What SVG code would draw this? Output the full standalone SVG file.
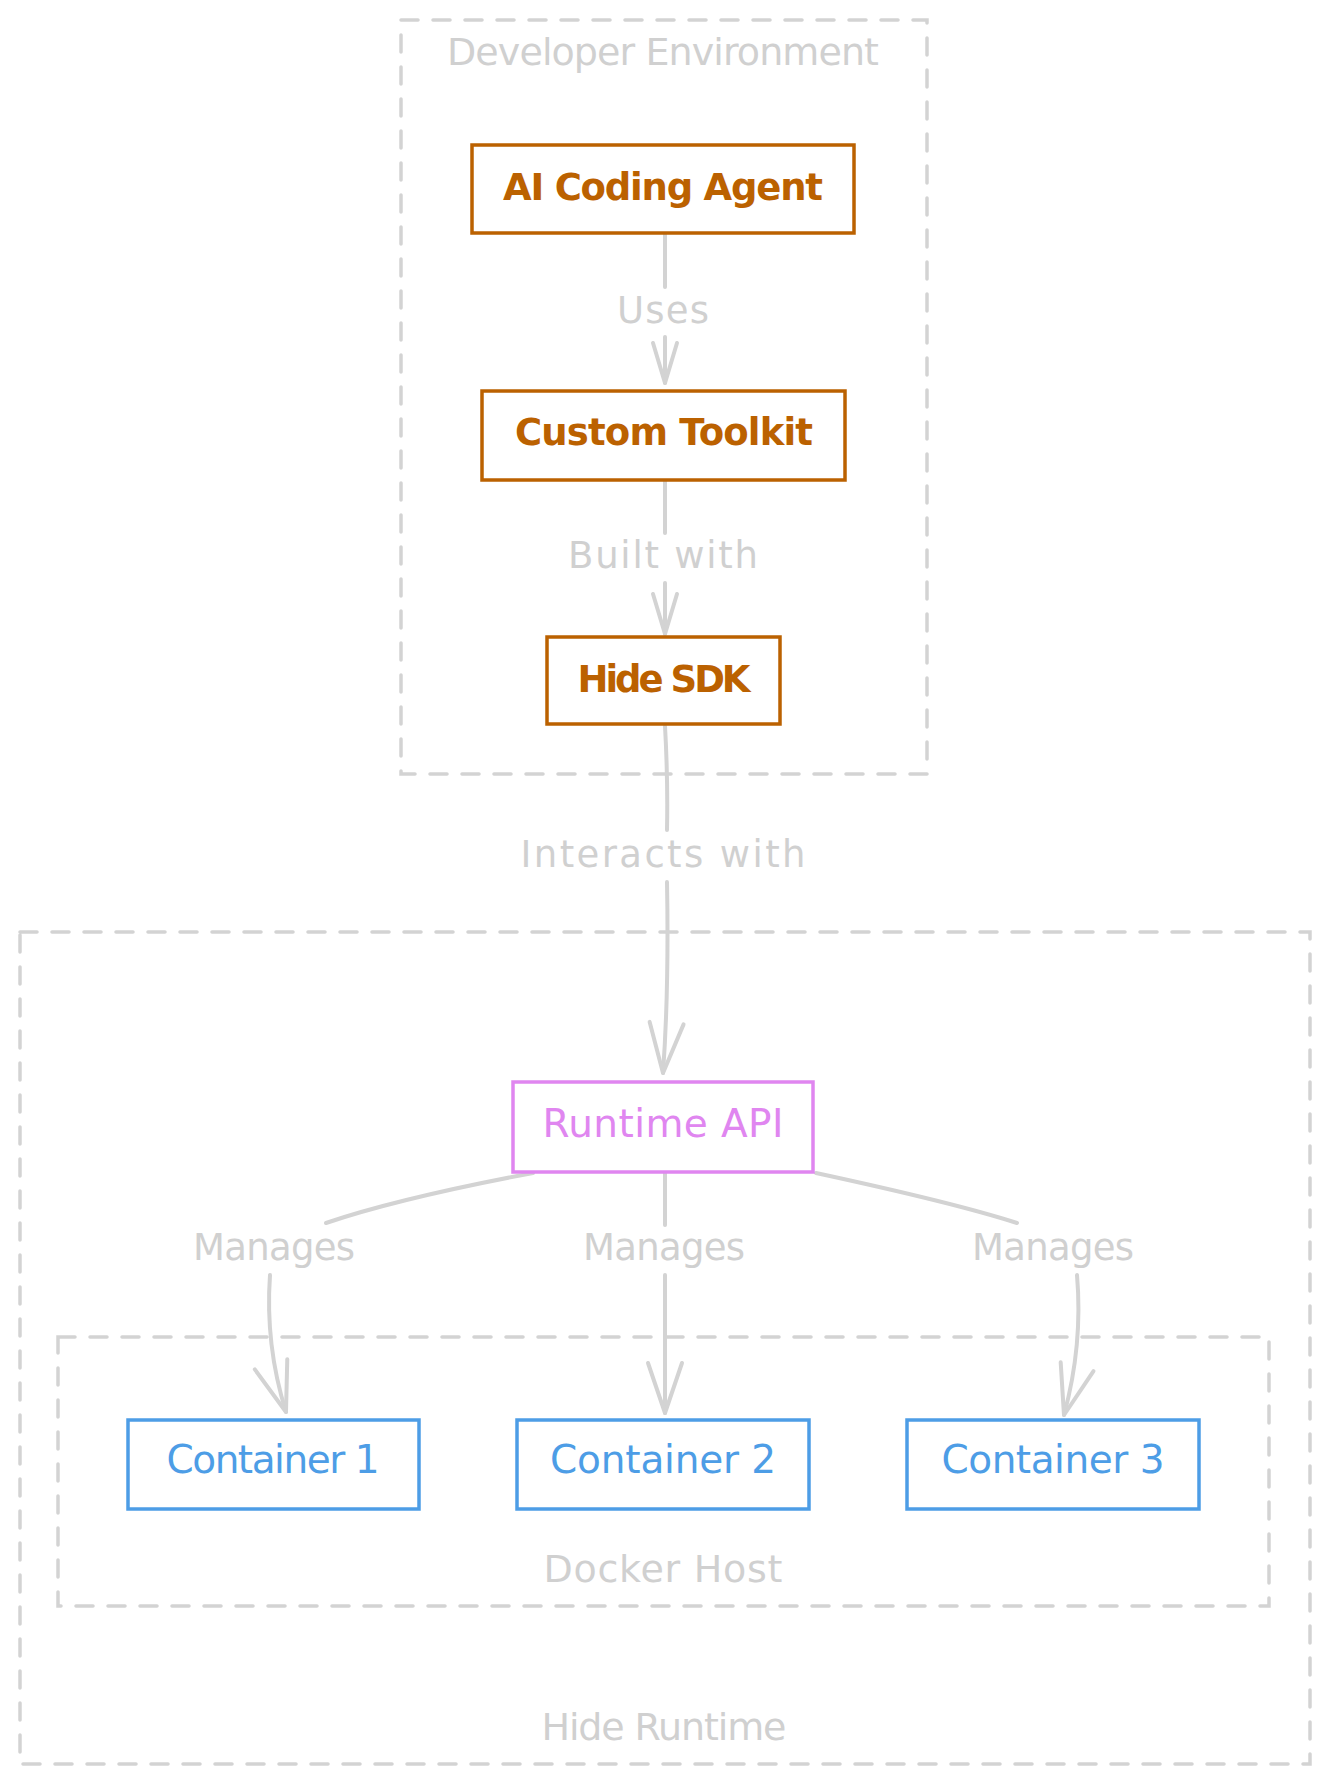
<svg xmlns="http://www.w3.org/2000/svg" width="1329" height="1783" viewBox="0 0 1329 1783">
  <style>
    .grp { fill: none; stroke: #d3d3d3; stroke-width: 3.5; stroke-dasharray: 17 15; stroke-linecap: round; }
    .glabel { font-family: "DejaVu Sans", "Liberation Sans", sans-serif; font-size: 38px; fill: #d0d0d0; text-anchor: middle; }
    .elabel { font-family: "DejaVu Sans", "Liberation Sans", sans-serif; font-size: 37px; fill: #d0d0d0; text-anchor: middle; }
    .box { fill: #ffffff; stroke-width: 3.5; }
    .orange { stroke: #bb6100; }
    .pink { stroke: #e086f0; }
    .blue { stroke: #4d9de6; }
    .ntext { font-family: "DejaVu Sans", "Liberation Sans", sans-serif; font-size: 39px; text-anchor: middle; }
    .to { fill: #bb6100; font-weight: bold; font-size: 37px; }
    .tp { fill: #e086f0; }
    .tb { fill: #4d9de6; }
    .edge { fill: none; stroke: #d3d3d3; stroke-width: 4; stroke-linecap: round; }
  </style>
  <defs>
    <marker id="ah" markerUnits="userSpaceOnUse" markerWidth="70" markerHeight="50" refX="0" refY="0" viewBox="-60 -25 70 50" orient="auto" overflow="visible">
      <path d="M-50,-17 L0,0 L-50,17" fill="none" stroke="#d3d3d3" stroke-width="4" stroke-linecap="round" stroke-linejoin="round"/>
    </marker>
    <marker id="ahs" markerUnits="userSpaceOnUse" markerWidth="60" markerHeight="40" refX="0" refY="0" viewBox="-50 -20 60 40" orient="auto" overflow="visible">
      <path d="M-40,-12 L0,0 L-40,12" fill="none" stroke="#d3d3d3" stroke-width="4" stroke-linecap="round" stroke-linejoin="round"/>
    </marker>
  </defs>
  <rect x="0" y="0" width="1329" height="1783" fill="#ffffff"/>

  <g id="group-hide-runtime">
    <rect class="grp" x="20" y="932" width="1290" height="832"/>
    <text class="glabel" x="664" y="1740" textLength="245">Hide Runtime</text>
  </g>
  <g id="group-docker-host">
    <rect class="grp" x="58" y="1337" width="1211" height="269"/>
    <text class="glabel" x="663" y="1582" textLength="239">Docker Host</text>
  </g>
  <g id="group-developer-environment">
    <rect class="grp" x="401" y="20" width="526" height="754"/>
    <text class="glabel" x="663" y="65" textLength="432">Developer Environment</text>
  </g>

  <g id="connectors">
    <path class="edge" d="M665,234 L665,287"/>
    <path class="edge" d="M665,337 L665,383" marker-end="url(#ahs)"/>
    <text class="elabel" x="663" y="323" textLength="92">Uses</text>

    <path class="edge" d="M665,481 L665,533"/>
    <path class="edge" d="M665,583 L665,634" marker-end="url(#ahs)"/>
    <text class="elabel" x="663" y="568" textLength="190">Built with</text>

    <path class="edge" d="M665,726 Q668,780 667,830"/>
    <path class="edge" d="M667,882 Q669,990 663,1073" marker-end="url(#ah)"/>
    <text class="elabel" x="663" y="867" textLength="285">Interacts with</text>

    <path class="edge" d="M533,1173 Q400,1198 326,1223"/>
    <path class="edge" d="M270,1275 Q265,1345 286,1412" marker-end="url(#ah)"/>
    <text class="elabel" x="274" y="1260" textLength="162">Manages</text>

    <path class="edge" d="M665,1173 L665,1225"/>
    <path class="edge" d="M665,1275 L665,1413" marker-end="url(#ah)"/>
    <text class="elabel" x="664" y="1260" textLength="162">Manages</text>

    <path class="edge" d="M816,1173 Q955,1203 1017,1223"/>
    <path class="edge" d="M1077,1275 Q1083,1345 1064,1415" marker-end="url(#ah)"/>
    <text class="elabel" x="1053" y="1260" textLength="162">Manages</text>
  </g>

  <g id="node-ai-coding-agent">
    <rect class="box orange" x="472" y="145" width="382" height="88"/>
    <text class="ntext to" x="663" y="200" textLength="320">AI Coding Agent</text>
  </g>
  <g id="node-custom-toolkit">
    <rect class="box orange" x="482" y="391" width="363" height="89"/>
    <text class="ntext to" x="664" y="445" textLength="298">Custom Toolkit</text>
  </g>
  <g id="node-hide-sdk">
    <rect class="box orange" x="547" y="637" width="233" height="87"/>
    <text class="ntext to" x="664" y="692" textLength="173">Hide SDK</text>
  </g>
  <g id="node-runtime-api">
    <rect class="box pink" x="513" y="1082" width="300" height="90"/>
    <text class="ntext tp" x="663" y="1137" textLength="241">Runtime API</text>
  </g>
  <g id="node-container-1">
    <rect class="box blue" x="128" y="1420" width="291" height="89"/>
    <text class="ntext tb" x="273" y="1473" textLength="213">Container 1</text>
  </g>
  <g id="node-container-2">
    <rect class="box blue" x="517" y="1420" width="292" height="89"/>
    <text class="ntext tb" x="663" y="1473" textLength="226">Container 2</text>
  </g>
  <g id="node-container-3">
    <rect class="box blue" x="907" y="1420" width="292" height="89"/>
    <text class="ntext tb" x="1053" y="1473" textLength="223">Container 3</text>
  </g>
</svg>
